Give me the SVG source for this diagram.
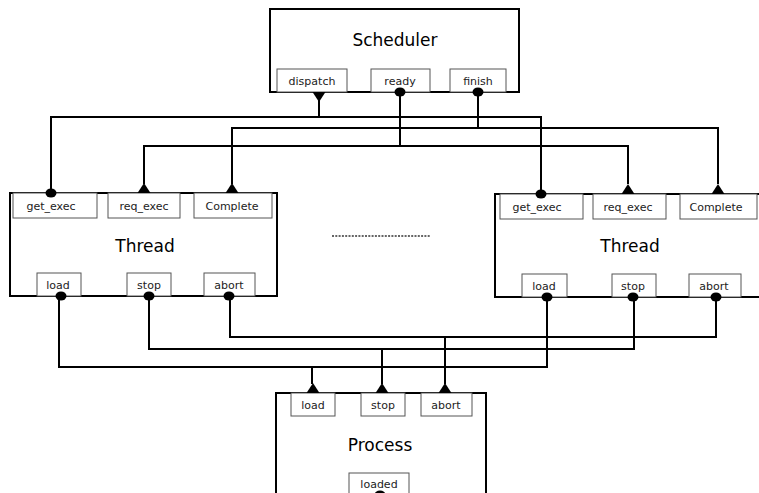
<svg xmlns="http://www.w3.org/2000/svg" width="759" height="493" viewBox="0 0 759 493">
<style>
.box{fill:#fff;stroke:#000;stroke-width:2}
.port{fill:#fff;stroke:#555;stroke-width:1}
.title{font-family:"DejaVu Sans",sans-serif;font-size:17px;fill:#000;text-anchor:middle}
.pl{font-family:"DejaVu Sans",sans-serif;font-size:11px;fill:#222;text-anchor:middle}
.wire{fill:none;stroke:#000;stroke-width:2}
.head{fill:#000}
</style>
<defs>
<ellipse id="dot" cx="0" cy="0" rx="5.5" ry="4.5" class="head"/>
<path id="triUp" d="M-6.5,0 L0,-10 L6.5,0Z" class="head"/>
<path id="triDown" d="M-6.5,0 L0,10 L6.5,0Z" class="head"/>
</defs>
<rect width="759" height="493" fill="#fff"/>

<g id="connectors">
<path class="wire" d="M319,100 V117 M51,193 V117 H541 V193"/>
<path class="wire" d="M478,92 V128 M232,184 V128 H718 V184"/>
<path class="wire" d="M400,92 V146 M144,184 V146 H628 V184"/>
<path class="wire" d="M59,296 V367 H547 V297 M312,367 V384"/>
<path class="wire" d="M149,296 V349 H634 V297 M382,349 V384"/>
<path class="wire" d="M230,296 V337 H716 V297 M445,337 V384"/>
<line x1="332" y1="236" x2="430" y2="236" stroke="#333" stroke-width="1.5" stroke-dasharray="2,1.3"/>
</g>

<g id="scheduler">
<rect class="box" x="270" y="9" width="249" height="83"/>
<text class="title" x="395" y="46">Scheduler</text>
<rect class="port" x="277" y="69" width="70" height="23"/>
<text class="pl" x="312" y="85">dispatch</text>
<rect class="port" x="371" y="69" width="59" height="23"/>
<text class="pl" x="400" y="85">ready</text>
<rect class="port" x="450" y="69" width="56" height="23"/>
<text class="pl" x="478" y="85">finish</text>
<use href="#triDown" x="319" y="92"/>
<use href="#dot" x="400" y="92"/>
<use href="#dot" x="478" y="92"/>
</g>

<g id="thread-left">
<rect class="box" x="10" y="193" width="267" height="103"/>
<text class="title" x="145" y="252">Thread</text>
<rect class="port" x="13" y="193" width="84" height="25"/>
<text class="pl" x="51" y="210">get_exec</text>
<rect class="port" x="108" y="193" width="72" height="25"/>
<text class="pl" x="144" y="210">req_exec</text>
<rect class="port" x="194" y="193" width="78" height="25"/>
<text class="pl" x="232" y="210">Complete</text>
<rect class="port" x="37" y="273" width="44" height="23"/>
<text class="pl" x="58" y="289">load</text>
<rect class="port" x="127" y="273" width="44" height="23"/>
<text class="pl" x="149" y="289">stop</text>
<rect class="port" x="204" y="273" width="51" height="23"/>
<text class="pl" x="229" y="289">abort</text>
<use href="#dot" x="51" y="193"/>
<use href="#triUp" x="144" y="193"/>
<use href="#triUp" x="232" y="193"/>
<use href="#dot" x="61" y="296"/>
<use href="#dot" x="149" y="296"/>
<use href="#dot" x="229" y="296"/>
</g>

<g id="thread-right">
<rect class="box" x="495" y="194" width="280" height="103"/>
<text class="title" x="630" y="252">Thread</text>
<rect class="port" x="500" y="194" width="83" height="25"/>
<text class="pl" x="537" y="211">get_exec</text>
<rect class="port" x="593" y="194" width="73" height="25"/>
<text class="pl" x="628" y="211">req_exec</text>
<rect class="port" x="680" y="194" width="77" height="25"/>
<text class="pl" x="716" y="211">Complete</text>
<rect class="port" x="522" y="274" width="45" height="23"/>
<text class="pl" x="544" y="290">load</text>
<rect class="port" x="612" y="274" width="44" height="23"/>
<text class="pl" x="633" y="290">stop</text>
<rect class="port" x="689" y="274" width="52" height="23"/>
<text class="pl" x="714" y="290">abort</text>
<use href="#dot" x="541" y="194"/>
<use href="#triUp" x="628" y="194"/>
<use href="#triUp" x="718" y="194"/>
<use href="#dot" x="547" y="297"/>
<use href="#dot" x="633" y="297"/>
<use href="#dot" x="716" y="297"/>
</g>

<g id="process">
<rect class="box" x="276" y="393" width="210" height="110"/>
<text class="title" x="380" y="451">Process</text>
<rect class="port" x="291" y="393" width="44" height="23"/>
<text class="pl" x="313" y="409">load</text>
<rect class="port" x="361" y="393" width="44" height="23"/>
<text class="pl" x="383" y="409">stop</text>
<rect class="port" x="421" y="393" width="51" height="23"/>
<text class="pl" x="446" y="409">abort</text>
<rect class="port" x="349" y="473" width="60" height="30"/>
<text class="pl" x="379" y="488">loaded</text>
<use href="#dot" x="380" y="495"/>
<use href="#triUp" x="313" y="393"/>
<use href="#triUp" x="382" y="393"/>
<use href="#triUp" x="445" y="393"/>
</g>
</svg>
